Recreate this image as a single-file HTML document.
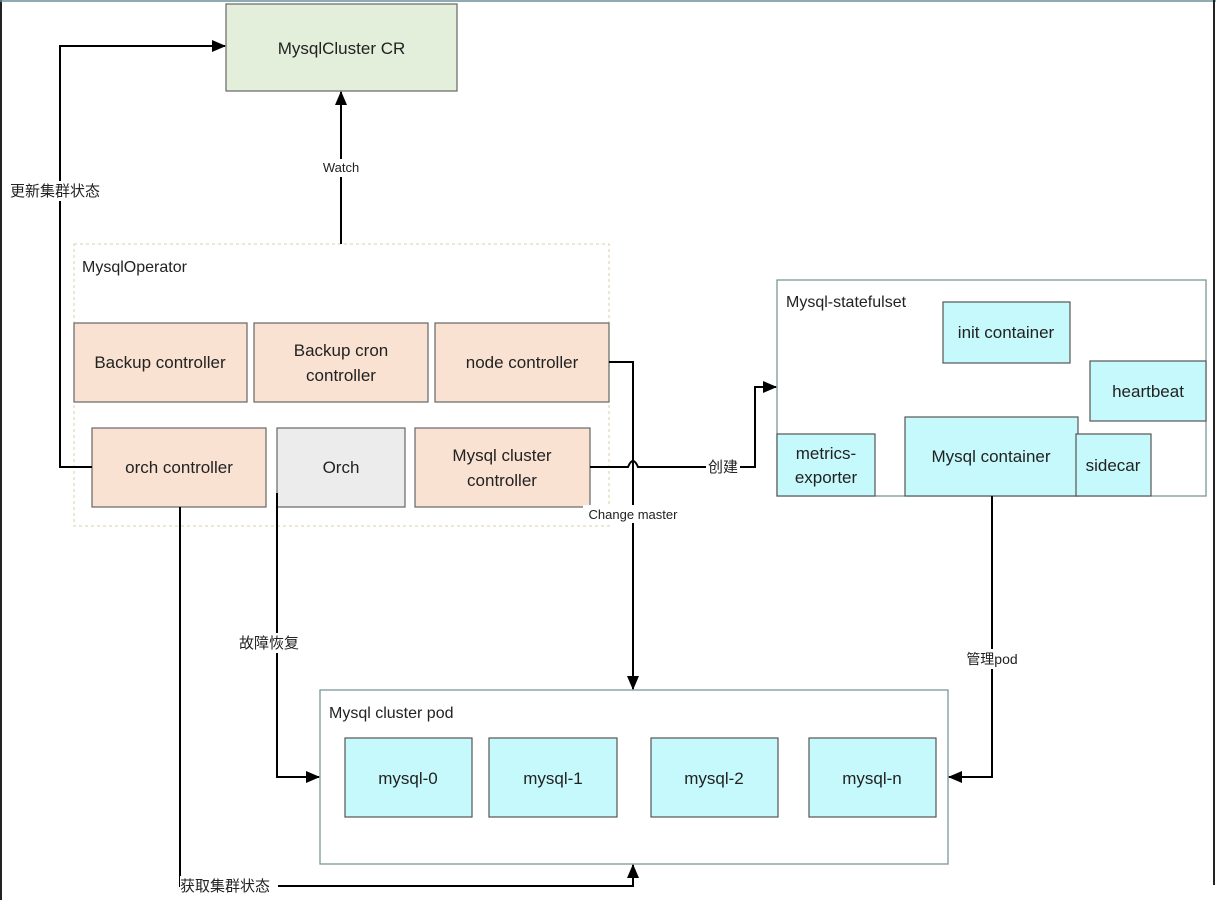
<!DOCTYPE html>
<html><head><meta charset="utf-8"><style>
html,body{margin:0;padding:0;background:#fff}
svg{display:block}
text{font-family:"Liberation Sans","Noto Sans CJK SC",sans-serif;fill:#222}
</style></head><body>
<svg width="1216" height="900" viewBox="0 0 1216 900" xmlns="http://www.w3.org/2000/svg">
<defs>
<marker id="a" markerWidth="14" markerHeight="14" refX="13" refY="7" orient="auto" markerUnits="userSpaceOnUse"><path d="M0,1 L14,7 L0,13 z" fill="#000"/></marker>
</defs>
<line x1="1" y1="0" x2="1" y2="900" stroke="#222" stroke-width="2"/>
<line x1="0" y1="1" x2="1216" y2="1" stroke="#6a8f99" stroke-width="1.5"/>
<line x1="1214" y1="0" x2="1214" y2="885" stroke="#222" stroke-width="2"/>

<rect x="226" y="4" width="231" height="87" fill="#e3eedb" stroke="#666" stroke-width="1.2"/>
<text x="341.5" y="54" font-size="17" text-anchor="middle">MysqlCluster CR</text>

<rect x="74" y="244" width="535" height="282" fill="none" stroke="#ddd0a5" stroke-dasharray="3,3"/>
<text x="82" y="272" font-size="16">MysqlOperator</text>

<g stroke="#666" stroke-width="1.2" fill="#f9e2d2">
<rect x="74" y="323" width="173" height="79"/>
<rect x="254" y="323" width="174" height="79"/>
<rect x="435" y="323" width="174" height="79"/>
<rect x="92" y="428" width="174" height="79"/>
<rect x="277" y="428" width="128" height="79" fill="#ececec"/>
<rect x="415" y="428" width="175" height="79"/>
</g>
<g font-size="17" text-anchor="middle">
<text x="160" y="368">Backup controller</text>
<text x="341" y="356">Backup cron</text>
<text x="341" y="381">controller</text>
<text x="522" y="368">node controller</text>
<text x="179" y="473">orch controller</text>
<text x="341" y="473">Orch</text>
<text x="502" y="461">Mysql cluster</text>
<text x="502" y="486">controller</text>
</g>

<rect x="777" y="280" width="429" height="216" fill="#fff" stroke="#6f9090" stroke-width="1.2"/>
<text x="786" y="307" font-size="16">Mysql-statefulset</text>
<g stroke="#555" stroke-width="1.2" fill="#c6f9fb">
<rect x="943" y="302" width="127" height="61"/>
<rect x="1090" y="361" width="116" height="60"/>
<rect x="905" y="417" width="173" height="79"/>
<rect x="1076" y="434" width="75" height="62"/>
<rect x="777" y="434" width="98" height="62"/>
</g>
<g font-size="17" text-anchor="middle">
<text x="1006" y="338">init container</text>
<text x="1148" y="397">heartbeat</text>
<text x="991" y="462">Mysql container</text>
<text x="1113" y="471">sidecar</text>
<text x="826" y="459">metrics-</text>
<text x="826" y="483">exporter</text>
</g>

<rect x="320" y="690" width="628" height="174" fill="#fff" stroke="#6f9090" stroke-width="1.2"/>
<text x="329" y="718" font-size="16">Mysql cluster pod</text>
<g stroke="#555" stroke-width="1.2" fill="#c6f9fb">
<rect x="345" y="738" width="127" height="79"/>
<rect x="489" y="738" width="128" height="79"/>
<rect x="651" y="738" width="127" height="79"/>
<rect x="809" y="738" width="127" height="79"/>
</g>
<g font-size="17" text-anchor="middle">
<text x="408" y="784">mysql-0</text>
<text x="553" y="784">mysql-1</text>
<text x="714" y="784">mysql-2</text>
<text x="872" y="784">mysql-n</text>
</g>

<g stroke="#000" stroke-width="2" fill="none">
<path d="M341,244 V92" marker-end="url(#a)"/>
<path d="M92,467 H60 V46 H225" marker-end="url(#a)"/>
<path d="M609,362 H633 V689" marker-end="url(#a)"/>
<path d="M590,467 H628 Q633,455 638,467 H755 V387 H776" marker-end="url(#a)"/>
<path d="M992,496 V777 H949" marker-end="url(#a)"/>
<path d="M277,493 V777 H319" marker-end="url(#a)"/>
<path d="M180,507 V886 H633 V865" marker-end="url(#a)"/>
</g>

<g font-size="13">
<rect x="318" y="159" width="46" height="18" fill="#fff"/>
<text x="341" y="172" text-anchor="middle">Watch</text>
<rect x="8" y="181" width="102" height="20" fill="#fff"/>
<text x="10" y="196" font-size="15">更新集群状态</text>
<rect x="583" y="505" width="102" height="18" fill="#fff"/>
<text x="633" y="519" text-anchor="middle">Change master</text>
<rect x="706" y="457" width="34" height="20" fill="#fff"/>
<text x="723" y="472" text-anchor="middle" font-size="15">创建</text>
<rect x="962" y="649" width="60" height="20" fill="#fff"/>
<text x="992" y="664" text-anchor="middle" font-size="14">管理pod</text>
<rect x="226" y="633" width="86" height="20" fill="#fff"/>
<text x="269" y="648" text-anchor="middle" font-size="15">故障恢复</text>
<rect x="180" y="876" width="98" height="20" fill="#fff"/>
<text x="180" y="891" font-size="15">获取集群状态</text>
</g>
</svg>
</body></html>
